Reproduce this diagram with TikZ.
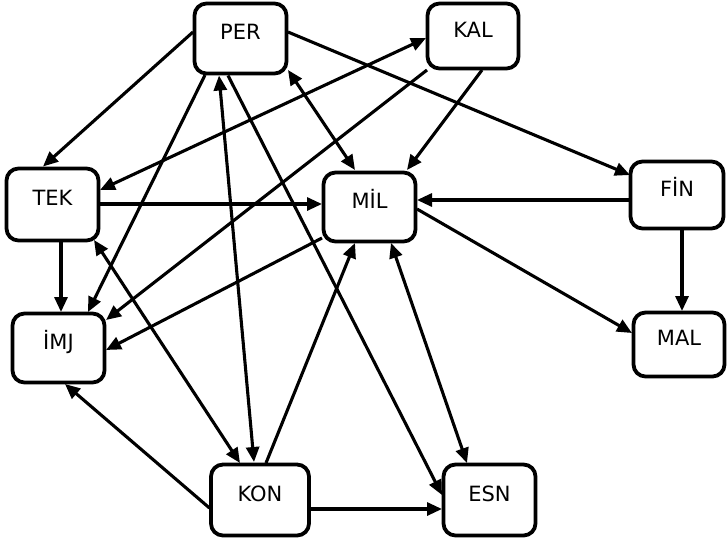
\documentclass[tikz,border=0pt]{standalone}
\usepackage{fontspec}
\setmainfont{DejaVu Sans}
\usetikzlibrary{arrows.meta}
\begin{document}
\begin{tikzpicture}[x=1pt,y=-1pt,
  box/.style={draw, line width=3.8pt, rounded corners=12pt, inner sep=0pt,
    text height=15pt, text depth=13pt, font=\fontsize{21}{25}\selectfont},
  conn/.style={line width=3.1pt, -{Triangle[length=15pt,width=13pt]}},
  biconn/.style={line width=3.1pt, {Triangle[length=15pt,width=13pt]}-{Triangle[length=15pt,width=13pt]}}]
\useasboundingbox (0,0) rectangle (727,542);
\node[box, minimum width=92pt, minimum height=70pt] (PER) at (240.5,38.5) {PER};
\node[box, minimum width=91pt, minimum height=65pt] (KAL) at (473,36) {KAL};
\node[box, minimum width=92pt, minimum height=72pt] (TEK) at (52.5,204.5) {TEK};
\node[box, minimum width=92pt, minimum height=69pt] (IMJ) at (58.5,348) {İMJ};
\node[box, minimum width=92pt, minimum height=69pt] (MIL) at (369.5,207) {MİL};
\node[box, minimum width=93pt, minimum height=67pt] (FIN) at (677,195) {FİN};
\node[box, minimum width=91pt, minimum height=64pt] (MAL) at (679,344.5) {MAL};
\node[box, minimum width=98pt, minimum height=71pt] (KON) at (260,500) {KON};
\node[box, minimum width=92pt, minimum height=71pt] (ESN) at (489.5,500) {ESN};

\draw[conn] ([shift={(-47.5,-6.5)}]PER.center) -- ([shift={(-9.5,-38)}]TEK.center);
\draw[conn] ([shift={(-35.5,36.5)}]PER.center) -- ([shift={(29.5,-36)}]IMJ.center);
\draw[biconn] ([shift={(-21.5,37)}]PER.center) -- ([shift={(-6,-38)}]KON.center);
\draw[conn] ([shift={(-12.5,37)}]PER.center) -- ([shift={(-47.5,-5)}]ESN.center);
\draw[biconn] ([shift={(47.5,31.5)}]PER.center) -- ([shift={(-14.5,-37)}]MIL.center);
\draw[conn] ([shift={(47.5,-6.5)}]PER.center) -- ([shift={(-47,-20)}]FIN.center);
\draw[biconn] ([shift={(-47,2)}]KAL.center) -- ([shift={(47.5,-14.5)}]TEK.center);
\draw[conn] ([shift={(-46,34)}]KAL.center) -- ([shift={(47.5,-28)}]IMJ.center);
\draw[conn] ([shift={(9,34)}]KAL.center) -- ([shift={(37.5,-37)}]MIL.center);
\draw[conn] ([shift={(47.5,-0.5)}]TEK.center) -- ([shift={(-47.5,-3)}]MIL.center);
\draw[conn] ([shift={(8.5,37.5)}]TEK.center) -- ([shift={(2.5,-36)}]IMJ.center);
\draw[conn] ([shift={(-47.5,31)}]MIL.center) -- ([shift={(47.5,2)}]IMJ.center);
\draw[conn] ([shift={(-48,5)}]FIN.center) -- ([shift={(47.5,-7)}]MIL.center);
\draw[conn] ([shift={(5,35)}]FIN.center) -- ([shift={(3,-33.5)}]MAL.center);
\draw[conn] ([shift={(47.5,2)}]MIL.center) -- ([shift={(-47,-11.5)}]MAL.center);
\draw[biconn] ([shift={(41.5,35.5)}]TEK.center) -- ([shift={(-20,-37)}]KON.center);
\draw[conn] ([shift={(-50.5,8)}]KON.center) -- ([shift={(6.5,36)}]IMJ.center);
\draw[conn] ([shift={(6,-37)}]KON.center) -- ([shift={(-14.5,36)}]MIL.center);
\draw[conn] ([shift={(50.5,9)}]KON.center) -- ([shift={(-47.5,9)}]ESN.center);
\draw[biconn] ([shift={(21.5,36)}]MIL.center) -- ([shift={(-22.5,-37)}]ESN.center);
\end{tikzpicture}
\end{document}
